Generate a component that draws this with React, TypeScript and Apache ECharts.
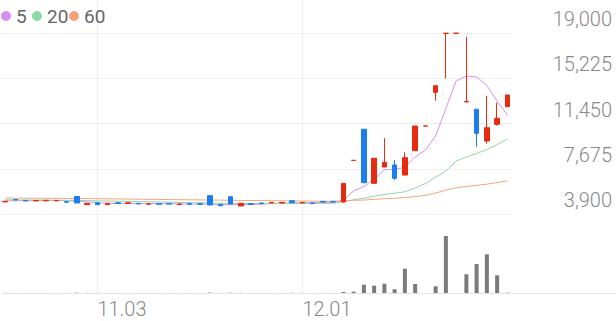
import React, { useEffect, useRef } from "react";
import * as echarts from "echarts";

const DATES = [
  "10.21", "10.22", "10.23", "10.24", "10.27", "10.28", "10.29", "10.30", "10.31",
  "11.03", "11.04", "11.05", "11.06", "11.07", "11.10", "11.11", "11.12", "11.13", "11.14",
  "11.17", "11.18", "11.19", "11.20", "11.21", "11.24", "11.25", "11.26", "11.27", "11.28",
  "12.01", "12.02", "12.03", "12.04", "12.05", "12.08", "12.09", "12.10", "12.11", "12.12",
  "12.15", "12.16", "12.17", "12.18", "12.19", "12.22", "12.23", "12.24", "12.26", "12.29", "12.30",
];

const OPEN = [
  4910, 5120, 5030, 4990, 5000, 4995, 4930, 5360, 4680, 4840,
  4680, 4840, 4790, 4790, 4710, 4760, 4780, 4690, 4760, 4760,
  5430, 4710, 5340, 4570, 4760, 4820, 4820, 4820, 5010, 4820,
  4820, 4950, 4950, 4900, 8370, 10970, 6460, 7820, 7990, 7150,
  9180, 11240, 14050, 18970, 18980, 13250, 12640, 9990, 11380, 12850,
];
const CLOSE = [
  4960, 5070, 4990, 5030, 5040, 5035, 4880, 4820, 4790, 4680,
  4790, 4790, 4840, 4740, 4760, 4710, 4730, 4740, 4710, 4710,
  4650, 4590, 4730, 4790, 4710, 4770, 4870, 4870, 4840, 4870,
  4770, 4900, 4900, 6460, 8380, 6510, 8550, 8210, 6880, 8600,
  11240, 11245, 14600, 18985, 18985, 13280, 10630, 11100, 11880, 13830,
];
const LOW = [
  4900, 5060, 4980, 4980, 4990, 4985, 4870, 4810, 4670, 4670,
  4670, 4780, 4780, 4730, 4700, 4700, 4720, 4680, 4700, 4700,
  4640, 4580, 4720, 4560, 4700, 4760, 4810, 4810, 4830, 4810,
  4760, 4890, 4890, 4890, 8370, 6500, 6450, 7810, 6740, 7110,
  9170, 11240, 13350, 15220, 18980, 13240, 9490, 9770, 11270, 12840,
];
const HIGH = [
  4970, 5130, 5040, 5040, 5050, 5045, 4940, 5370, 4800, 4850,
  4800, 4850, 4850, 4800, 4770, 4770, 4790, 4750, 4770, 4770,
  5440, 4720, 5350, 4800, 4770, 4830, 4880, 4880, 5020, 4880,
  4830, 4960, 4960, 6470, 8380, 10980, 8560, 10220, 8400, 9050,
  11250, 11245, 14610, 18990, 18990, 18690, 12650, 13770, 13190, 13840,
];

const MA5 = [
  4990, 5010, 5000, 5010, 5020, 5030, 5000, 4960, 4910, 4840,
  4790, 4770, 4780, 4770, 4780, 4770, 4760, 4740, 4730, 4720,
  4710, 4680, 4680, 4690, 4690, 4720, 4770, 4800, 4810, 4840,
  4840, 4860, 4870, 5068, 5819, 6194, 6820, 7571, 7654, 7780,
  8656, 9240, 10408, 12702, 14997, 15414, 15330, 14621, 13328, 12160,
];
const MA20 = [
  5080, 5075, 5070, 5065, 5060, 5050, 5040, 5030, 5015, 5000,
  4985, 4970, 4955, 4940, 4925, 4905, 4890, 4870, 4855, 4840,
  4820, 4800, 4790, 4780, 4775, 4770, 4770, 4770, 4775, 4780,
  4780, 4785, 4793, 4910, 5090, 5220, 5380, 5530, 5630, 5760,
  6070, 6440, 6980, 7490, 8320, 8650, 8950, 9280, 9700, 10160,
];
const MA60 = [
  5230, 5225, 5220, 5215, 5210, 5205, 5200, 5195, 5185, 5175,
  5165, 5155, 5145, 5135, 5125, 5115, 5105, 5095, 5085, 5075,
  5065, 5055, 5045, 5035, 5025, 5015, 5005, 4995, 4990, 4980,
  4975, 4968, 4960, 4985, 5040, 5065, 5125, 5180, 5210, 5270,
  5350, 5450, 5650, 5900, 6080, 6200, 6290, 6390, 6520, 6670,
];

const VOLUME = [
  12, 8, 6, 7, 5, 6, 9, 30, 14, 10,
  8, 6, 5, 7, 5, 6, 5, 4, 6, 5,
  35, 12, 28, 14, 6, 5, 8, 7, 15, 6,
  5, 9, 7, 100, 130, 830, 730, 930, 370, 2430,
  900, 0, 670, 5700, 0, 1870, 2900, 3870, 1770, 30,
];

const Y_TICKS = [3900, 7675, 11450, 15225, 19000];
const MA_NAMES = ["5", "20", "60"];
const MA_COLORS = ["#d690ee", "#8cd9a2", "#f6a37d"];

const UP = "#e62b10";
const DOWN = "#1a7ef0";

export default function App() {
  const ref = useRef<HTMLDivElement>(null);

  useEffect(() => {
    if (!ref.current) return;
    const chart = echarts.init(ref.current, null, { renderer: "svg" });
    const base = Y_TICKS[0];
    const step = Y_TICKS[1] - Y_TICKS[0];
    const top = Y_TICKS[Y_TICKS.length - 1] - base;
    const isMonthStart = (i: number) =>
      i > 0 && DATES[i].slice(0, 2) !== DATES[i - 1].slice(0, 2);

    const candles = DATES.map((_, i) => [
      OPEN[i] - base,
      CLOSE[i] - base,
      LOW[i] - base,
      HIGH[i] - base,
    ]);
    const maSeries = [MA5, MA20, MA60].map((arr, k) => ({
      name: MA_NAMES[k],
      type: "line",
      xAxisIndex: 0,
      yAxisIndex: 0,
      data: arr.map((v) => v - base),
      symbol: "none",
      showSymbol: false,
      lineStyle: { width: 1, color: MA_COLORS[k] },
      itemStyle: { color: MA_COLORS[k] },
      z: 1,
    }));
    const legendLefts = [1, 32, 69];

    chart.setOption({
      animation: false,
      textStyle: { fontFamily: "Roboto" },
      legend: MA_NAMES.map((n, k) => ({
        data: [{ name: n, icon: "circle" }],
        left: legendLefts[k],
        top: 6,
        padding: 0,
        itemGap: 0,
        itemWidth: 10,
        itemHeight: 10,
        selectedMode: false,
        textStyle: { fontSize: 19, lineHeight: 20, color: "#666", fontFamily: "Roboto" },
      })),
      grid: [
        { left: 0, right: 103.5, top: 33, height: 181 },
        { left: 0, right: 103.5, top: 236, height: 57 },
        { left: 5.125, right: 108.625, top: 0, height: 293 },
        { left: 3, right: 0, top: 0, height: 293 },
      ],
      xAxis: [
        { type: "category", gridIndex: 0, data: DATES, boundaryGap: true, show: false },
        { type: "category", gridIndex: 1, data: DATES, boundaryGap: true, show: false },
        {
          type: "category",
          gridIndex: 2,
          data: DATES,
          boundaryGap: false,
          axisLine: { show: false },
          axisTick: { show: false },
          axisLabel: {
            interval: (i: number) => isMonthStart(i),
            align: "left",
            margin: 6,
            fontSize: 20,
            lineHeight: 20,
            color: "#888",
            fontFamily: "Roboto",
            fontWeight: 300,
          },
          splitLine: {
            show: true,
            interval: (i: number) => isMonthStart(i),
            lineStyle: { color: "#eeeeee", width: 1 },
          },
        },
        {
          type: "value",
          gridIndex: 3,
          min: 0,
          max: 1,
          axisLine: { show: true, lineStyle: { color: "#e4e4e4", width: 1 } },
          axisTick: { show: false },
          axisLabel: { show: false },
          splitLine: { show: false },
        },
      ],
      yAxis: [
        {
          type: "value",
          gridIndex: 0,
          position: "right",
          min: 0,
          max: top,
          interval: step,
          axisLine: { show: false },
          axisTick: { show: false },
          splitLine: { show: true, lineStyle: { color: "#eeeeee", width: 1 } },
          axisLabel: {
            formatter: (v: number) => (v + base).toLocaleString("en-US"),
            showMinLabel: true,
            showMaxLabel: true,
            hideOverlap: false,
            align: "right",
            verticalAlign: "bottom",
            verticalAlignMinLabel: "bottom",
            verticalAlignMaxLabel: "bottom",
            margin: 99.5,
            fontSize: 20,
            lineHeight: 28,
            color: "#888",
            fontFamily: "Roboto",
            fontWeight: 300,
          },
        },
        {
          type: "value",
          gridIndex: 1,
          min: 0,
          max: Math.max(...VOLUME),
          show: false,
        },
        { type: "value", gridIndex: 2, show: false },
        { type: "value", gridIndex: 3, show: false },
      ],
      series: [
        {
          type: "candlestick",
          xAxisIndex: 0,
          yAxisIndex: 0,
          data: candles,
          barWidth: 5,
          itemStyle: {
            color: UP,
            color0: DOWN,
            borderColor: UP,
            borderColor0: DOWN,
            borderWidth: 1,
          },
          z: 3,
        },
        ...maSeries,
        {
          type: "bar",
          xAxisIndex: 1,
          yAxisIndex: 1,
          data: VOLUME,
          barWidth: 4,
          itemStyle: { color: "#7a7a7a" },
        },
      ],
    });
    return () => chart.dispose();
  }, []);

  return (
    <div
      ref={ref}
      style={{ position: "fixed", left: 0, top: 0, width: 616, height: 321, background: "#fff" }}
    />
  );
}
